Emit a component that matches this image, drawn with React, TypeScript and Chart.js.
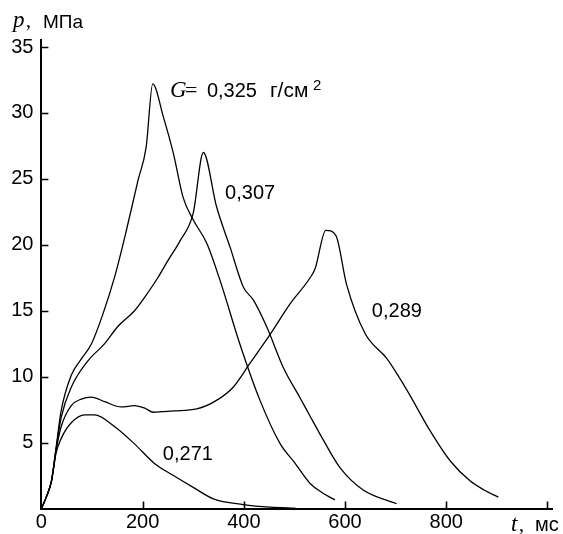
import React, { useEffect, useRef } from 'react';
import { Chart, registerables } from 'chart.js';

Chart.register(...registerables);

// Time (ms) and pressure (MPa) values
const t325 = [0, 10, 20, 29, 39, 59, 80, 99, 122, 145, 168, 191, 207, 220, 241, 261, 280, 300, 327, 353, 392, 432, 472, 500, 531, 555, 580];
const p325 = [0, 0.9, 2.1, 4.6, 7.4, 10.1, 11.4, 12.5, 14.8, 17.6, 21.1, 24.9, 27.4, 32.2, 29.7, 26.9, 23.6, 21.9, 20.1, 17.3, 12.5, 8.2, 4.9, 3.5, 1.9, 1.2, 0.65];

const t307 = [0, 10, 20, 29, 39, 59, 92, 125, 151, 184, 211, 230, 250, 274, 300, 320, 346, 373, 399, 419, 445, 478, 511, 531, 557, 590, 636, 702];
const p307 = [0, 0.9, 2.1, 4.5, 6.9, 9.2, 11.2, 12.5, 13.8, 15.0, 16.4, 17.5, 18.8, 20.3, 22.4, 27.0, 22.9, 19.8, 16.8, 15.8, 13.8, 10.7, 8.4, 7.0, 5.2, 3.1, 1.4, 0.36];

const t289 = [0, 10, 20, 29, 39, 59, 79, 99, 125, 158, 184, 205, 221, 261, 307, 346, 379, 412, 452, 491, 531, 541, 562, 582, 603, 640, 682, 722, 768, 808, 847, 875, 903];
const p289 = [0, 0.9, 2.1, 4.4, 6.2, 7.8, 8.3, 8.45, 8.1, 7.7, 7.8, 7.6, 7.3, 7.4, 7.55, 8.2, 9.2, 11.0, 13.2, 15.5, 17.5, 18.2, 21.1, 20.7, 17.0, 13.25, 11.4, 9.0, 5.9, 3.6, 2.1, 1.4, 0.86];

const t271 = [0, 10, 20, 29, 39, 59, 86, 105, 145, 184, 224, 261, 300, 340, 399, 452, 502];
const p271 = [0, 0.9, 2.1, 4.2, 5.3, 6.5, 7.1, 7.1, 6.2, 4.9, 3.4, 2.5, 1.6, 0.73, 0.3, 0.1, 0.03];

const xTicks = [0, 200, 400, 600, 800, 1000];
const yTicks = [0, 5, 10, 15, 20, 25, 30, 35];

const gValues = ['0,325', '0,307', '0,289', '0,271'];

const SANS = '"Liberation Sans", Arial, sans-serif';
const SERIF = '"Liberation Serif", "Times New Roman", serif';

function pairs(ts: number[], ps: number[]) {
  return ts.map((t, i) => ({ x: t, y: ps[i] }));
}

const annotationPlugin = {
  id: 'annot',
  afterDraw(chart: any) {
    const ctx = chart.ctx as CanvasRenderingContext2D;
    const xs = chart.scales.x;
    const ys = chart.scales.y;
    ctx.save();
    // inward tick marks
    ctx.strokeStyle = '#000';
    ctx.lineWidth = 1.6;
    ctx.beginPath();
    xTicks.forEach((v) => {
      if (v === 0) return;
      const px = Math.round(xs.getPixelForValue(v)) + 0.5;
      ctx.moveTo(px, ys.bottom);
      ctx.lineTo(px, ys.bottom - 7);
    });
    yTicks.forEach((v) => {
      if (v === 0) return;
      const py = Math.round(ys.getPixelForValue(v)) + 0.5;
      ctx.moveTo(xs.left, py);
      ctx.lineTo(xs.left + 7, py);
    });
    ctx.stroke();

    ctx.fillStyle = '#000';
    ctx.textBaseline = 'alphabetic';
    ctx.textAlign = 'left';

    // curve labels
    const place = (t: number, p: number) => [xs.getPixelForValue(t), ys.getPixelForValue(p)];
    const [gx, gy] = place(254, 31.2);
    ctx.font = `italic 23px ${SERIF}`;
    ctx.fillText('G', gx, gy);
    ctx.font = `22px ${SERIF}`;
    ctx.fillText('=', gx + 15, gy);
    ctx.font = `20px ${SANS}`;
    ctx.fillText(gValues[0], gx + 37, gy);
    ctx.font = `21px ${SANS}`;
    ctx.fillText('г/см', gx + 100, gy);
    ctx.font = `15px ${SANS}`;
    ctx.fillText('2', gx + 143, gy - 7);

    ctx.font = `20px ${SANS}`;
    let [a, b] = place(363, 23.5);
    ctx.fillText(gValues[1], a, b);
    [a, b] = place(653, 14.5);
    ctx.fillText(gValues[2], a, b);
    [a, b] = place(240, 3.7);
    ctx.fillText(gValues[3], a, b);

    // axis titles
    ctx.font = `italic 23px ${SERIF}`;
    ctx.fillText('p', 13, 27);
    ctx.font = `20px ${SERIF}`;
    ctx.fillText(',', 26, 27);
    ctx.font = `19px ${SANS}`;
    ctx.fillText('МПа', 43, 28);

    ctx.font = `italic 23px ${SERIF}`;
    ctx.fillText('t', 511, 531);
    ctx.font = `20px ${SERIF}`;
    ctx.fillText(',', 519, 531);
    ctx.font = `20px ${SANS}`;
    ctx.fillText('мс', 535, 531);
    ctx.restore();
  },
};

export default function App() {
  const ref = useRef<HTMLCanvasElement>(null);
  useEffect(() => {
    if (!ref.current) return;
    const ds = (ts: number[], ps: number[], label: string) => ({
      label,
      data: pairs(ts, ps),
      borderColor: '#000',
      borderWidth: 1.3,
      pointRadius: 0,
      fill: false,
      cubicInterpolationMode: 'monotone' as const,
    });
    const chart = new Chart(ref.current, {
      type: 'line',
      data: {
        datasets: [
          ds(t325, p325, gValues[0]),
          ds(t307, p307, gValues[1]),
          ds(t289, p289, gValues[2]),
          ds(t271, p271, gValues[3]),
        ],
      },
      options: {
        animation: false,
        responsive: false,
        devicePixelRatio: 1,
        layout: { padding: { top: 40.4, right: 10.5, left: 0, bottom: 0 } },
        plugins: { legend: { display: false }, tooltip: { enabled: false } },
        scales: {
          x: {
            type: 'linear',
            min: 0,
            max: 1010,
            afterBuildTicks: (s: any) => {
              s.ticks = xTicks.map((v) => ({ value: v }));
            },
            afterFit: (s: any) => {
              s.height = 25.5;
            },
            grid: { drawOnChartArea: false, drawTicks: false },
            border: { display: true, color: '#000', width: 2 },
            ticks: {
              color: '#000',
              font: { family: SANS, size: 20 },
              padding: 2,
              maxRotation: 0,
              autoSkip: false,
              callback: (v: any) => (v === 1000 ? '' : String(v)),
            },
          },
          y: {
            type: 'linear',
            min: 0,
            max: 35.5,
            afterBuildTicks: (s: any) => {
              s.ticks = yTicks.map((v) => ({ value: v }));
            },
            afterFit: (s: any) => {
              s.width = 41.4;
            },
            grid: { drawOnChartArea: false, drawTicks: false },
            border: { display: true, color: '#000', width: 2 },
            ticks: {
              color: '#000',
              font: { family: SANS, size: 20 },
              padding: 8,
              autoSkip: false,
              callback: (v: any) => (v === 0 ? '' : String(v)),
            },
          },
        },
      },
      plugins: [annotationPlugin],
    });
    return () => chart.destroy();
  }, []);
  return (
    <div style={{ position: 'fixed', left: 0, top: 0, width: 563, height: 534, background: '#fff' }}>
      <canvas ref={ref} width={563} height={534} style={{ width: 563, height: 534, display: 'block' }} />
    </div>
  );
}
